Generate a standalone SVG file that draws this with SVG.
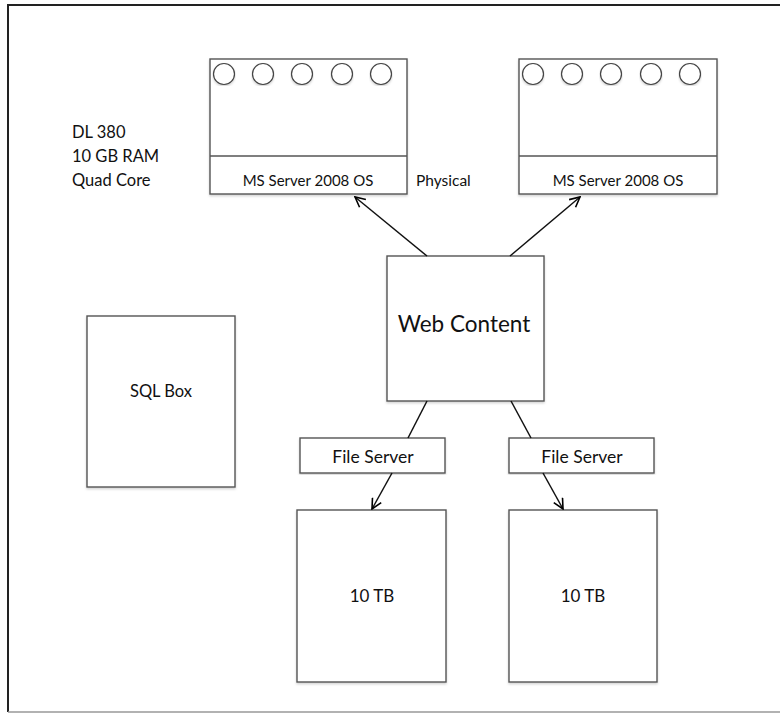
<svg xmlns="http://www.w3.org/2000/svg" width="780" height="714" viewBox="0 0 780 714">
<defs>
<marker id="arr" viewBox="0 0 12 12" refX="11" refY="6" markerWidth="12" markerHeight="12" markerUnits="userSpaceOnUse" orient="auto">
<path d="M1,1 L11,6 L1,11" fill="none" stroke="#000" stroke-width="1.6"/>
</marker>
<filter id="sh" x="-5%" y="-5%" width="110%" height="110%">
<feDropShadow dx="0" dy="1.5" stdDeviation="1" flood-color="#000" flood-opacity="0.18"/>
</filter>
</defs>
<style>
.box{fill:#fff;stroke:#555;stroke-width:1.4;filter:url(#sh)}
.div{stroke:#555;stroke-width:1.3}
.led{fill:#fff;stroke:#444;stroke-width:1.2;filter:url(#sh)}
.t{font-family:Lato,"Liberation Sans",sans-serif;fill:#111}
.c{text-anchor:middle}
.con{stroke:#111;stroke-width:1.5;fill:none}
</style>
<rect width="780" height="714" fill="#fff"/>
<g id="frame">
<line x1="8" y1="5" x2="780" y2="5" stroke="#222" stroke-width="2"/>
<line x1="8" y1="4" x2="8" y2="712" stroke="#222" stroke-width="2"/>
<line x1="8" y1="712" x2="780" y2="712" stroke="#999" stroke-width="1.3"/>
</g>
<g id="server1">
<rect class="box" x="210" y="59" width="197" height="135"/>
<line class="div" x1="210" y1="156" x2="407" y2="156"/>
<circle class="led" cx="224" cy="74" r="10.5"/>
<circle class="led" cx="263" cy="74" r="10.5"/>
<circle class="led" cx="302" cy="74" r="10.5"/>
<circle class="led" cx="342" cy="74" r="10.5"/>
<circle class="led" cx="381" cy="74" r="10.5"/>
<text class="t c" x="308" y="186" font-size="15">MS Server 2008 OS</text>
</g>
<g id="server2">
<rect class="box" x="519" y="59" width="198" height="135"/>
<line class="div" x1="519" y1="156" x2="717" y2="156"/>
<circle class="led" cx="533" cy="74" r="10.5"/>
<circle class="led" cx="572" cy="74" r="10.5"/>
<circle class="led" cx="611" cy="74" r="10.5"/>
<circle class="led" cx="651" cy="74" r="10.5"/>
<circle class="led" cx="690" cy="74" r="10.5"/>
<text class="t c" x="618" y="186" font-size="15">MS Server 2008 OS</text>
</g>
<g id="specs">
<text class="t" x="72" y="138" font-size="16.5">DL 380</text>
<text class="t" x="72" y="162" font-size="16.5">10 GB RAM</text>
<text class="t" x="72" y="186" font-size="16.5">Quad Core</text>
</g>
<g id="physical-label">
<text class="t" x="416" y="186" font-size="15.5">Physical</text>
</g>
<g id="web-content">
<rect class="box" x="387" y="256" width="157" height="145"/>
<text class="t c" x="464" y="332" font-size="22.5">Web Content</text>
</g>
<g id="sql-box">
<rect class="box" x="87" y="316" width="148" height="171"/>
<text class="t c" x="161" y="397" font-size="16.5">SQL Box</text>
</g>
<g id="file-server1">
<rect class="box" x="300" y="438" width="145" height="35"/>
<text class="t c" x="373" y="463" font-size="17.5">File Server</text>
</g>
<g id="file-server2">
<rect class="box" x="509" y="438" width="145" height="35"/>
<text class="t c" x="582" y="463" font-size="17.5">File Server</text>
</g>
<g id="storage1">
<rect class="box" x="297" y="510" width="149" height="172"/>
<text class="t c" x="372" y="602" font-size="17">10 TB</text>
</g>
<g id="storage2">
<rect class="box" x="509" y="510" width="148" height="172"/>
<text class="t c" x="583" y="602" font-size="17">10 TB</text>
</g>
<g id="connectors">
<line class="con" x1="427" y1="256" x2="355" y2="197" marker-end="url(#arr)"/>
<line class="con" x1="510" y1="256" x2="580" y2="197" marker-end="url(#arr)"/>
<line class="con" x1="427" y1="401" x2="408" y2="438"/>
<line class="con" x1="511" y1="401" x2="531" y2="438"/>
<line class="con" x1="392" y1="473" x2="372" y2="509" marker-end="url(#arr)"/>
<line class="con" x1="543" y1="473" x2="563" y2="509" marker-end="url(#arr)"/>
</g>
</svg>
